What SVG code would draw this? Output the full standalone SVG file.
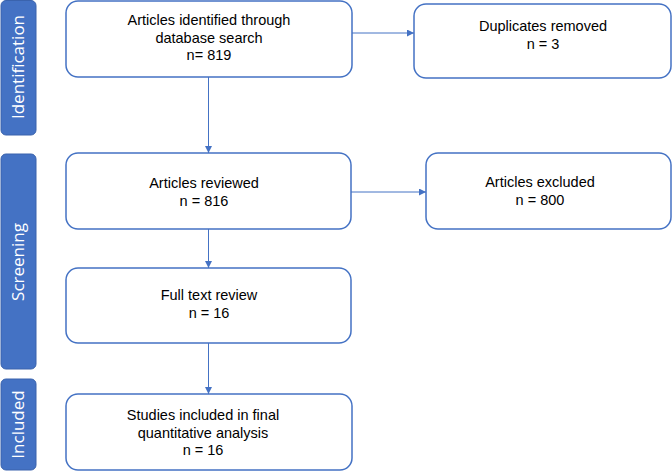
<svg xmlns="http://www.w3.org/2000/svg" width="672" height="472" viewBox="0 0 672 472">
<style>
.bar{fill:#4472C4;stroke:#3a63ad;stroke-width:1}
.box{fill:#fff;stroke:#4472C4;stroke-width:1.5}
.t{font-family:"Liberation Sans",Arial,sans-serif;font-size:14.5px;fill:#000;text-anchor:middle}
.s{font-family:"Open Sans","Noto Sans",sans-serif;font-size:17px;fill:#fff;text-anchor:middle}
.c{stroke:#4472C4;stroke-width:1;fill:none;marker-end:url(#ah)}
</style>
<defs>
<marker id="ah" viewBox="0 0 10 10" refX="10" refY="5" markerWidth="7" markerHeight="7" markerUnits="userSpaceOnUse" orient="auto">
<path d="M0,0 L10,5 L0,10 z" fill="#4472C4"/>
</marker>
</defs>
<rect width="672" height="472" fill="#fff"/>
<g id="stage-identification">
<rect class="bar" x="1" y="0.5" width="35" height="134.5" rx="5"/>
<text class="s" transform="translate(24,67) rotate(-90)">Identification</text>
</g>
<g id="stage-screening">
<rect class="bar" x="1" y="154" width="35" height="215" rx="5"/>
<text class="s" transform="translate(24,262) rotate(-90)">Screening</text>
</g>
<g id="stage-included">
<rect class="bar" x="1" y="379" width="35" height="91" rx="5"/>
<text class="s" transform="translate(24,424.5) rotate(-90)">Included</text>
</g>
<g id="connectors">
<line class="c" x1="352" y1="33" x2="414" y2="33"/>
<line class="c" x1="208.5" y1="77" x2="208.5" y2="153"/>
<line class="c" x1="351" y1="192" x2="426" y2="192"/>
<line class="c" x1="208.5" y1="229" x2="208.5" y2="268"/>
<line class="c" x1="208.5" y1="343" x2="208.5" y2="394"/>
</g>
<g id="identified">
<rect class="box" x="66" y="1" width="286" height="76" rx="12"/>
<text class="t" x="209" y="25">Articles identified through</text>
<text class="t" x="209" y="42.5">database search</text>
<text class="t" x="209" y="60">n= 819</text>
</g>
<g id="duplicates">
<rect class="box" x="414" y="4" width="257" height="74" rx="12"/>
<text class="t" x="543" y="31">Duplicates removed</text>
<text class="t" x="543" y="48.5">n = 3</text>
</g>
<g id="reviewed">
<rect class="box" x="66" y="153" width="285" height="76" rx="12"/>
<text class="t" x="204" y="188">Articles reviewed</text>
<text class="t" x="204" y="205.5">n = 816</text>
</g>
<g id="excluded">
<rect class="box" x="426" y="153" width="245" height="76" rx="12"/>
<text class="t" x="540" y="187">Articles excluded</text>
<text class="t" x="540" y="204.5">n = 800</text>
</g>
<g id="fulltext">
<rect class="box" x="66" y="268" width="285" height="75" rx="12"/>
<text class="t" x="209" y="300">Full text review</text>
<text class="t" x="209" y="317.5">n = 16</text>
</g>
<g id="included">
<rect class="box" x="66" y="394" width="286" height="76" rx="12"/>
<text class="t" x="203" y="420">Studies included in final</text>
<text class="t" x="203" y="437.5">quantitative analysis</text>
<text class="t" x="203" y="455">n = 16</text>
</g>
</svg>
